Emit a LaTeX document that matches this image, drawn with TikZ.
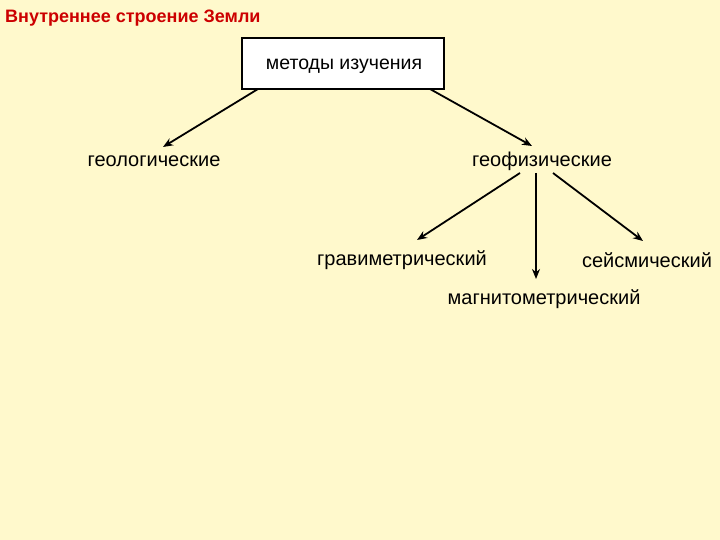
\documentclass[tikz,border=0pt]{standalone}
\usepackage{fontspec}
\setmainfont{Liberation Sans}
\usetikzlibrary{arrows.meta}
\definecolor{bg}{RGB}{255,249,204}
\definecolor{titlered}{RGB}{204,0,0}
\begin{document}
\begin{tikzpicture}[x=1pt,y=-1pt,
  lbl/.style={font=\fontsize{20}{24}\selectfont, inner sep=0pt, anchor=center},
  arr/.style={line width=1.8pt, -{Stealth[length=10pt,width=8pt]}}]
\fill[bg] (0,0) rectangle (720,540);
\useasboundingbox (0,0) rectangle (720,540);
\node[font=\bfseries\fontsize{18}{21}\selectfont, text=titlered, anchor=west, inner sep=0pt] (title) at (5,18) {Внутреннее строение Земли};
\node[draw, line width=1.8pt, fill=white, minimum width=202pt, minimum height=51pt, inner sep=0pt] (box) at (343,63.5) {};
\node[lbl, font=\fontsize{19.5}{23}\selectfont] (boxtxt) at (344,66) {методы изучения};
\node[lbl] (geol) at (154,161) {геологические};
\node[lbl] (geof) at (542,161) {геофизические};
\node[lbl] (grav) at (402,260) {гравиметрический};
\node[lbl] (seis) at (647,260) {сейсмический};
\node[lbl] (magn) at (544,299) {магнитометрический};
\coordinate (b1) at (258,89);
\coordinate (b2) at (430,89);
\coordinate (g1) at (520,173);
\coordinate (g2) at (536,173);
\coordinate (g3) at (553,173);
\draw[arr] (b1) -- (163,147) coordinate (e1);
\draw[arr] (b2) -- (532,146) coordinate (e2);
\draw[arr] (g1) -- (417,240);
\draw[arr] (g2) -- (536,279);
\draw[arr] (g3) -- (643,241);
\end{tikzpicture}
\end{document}
